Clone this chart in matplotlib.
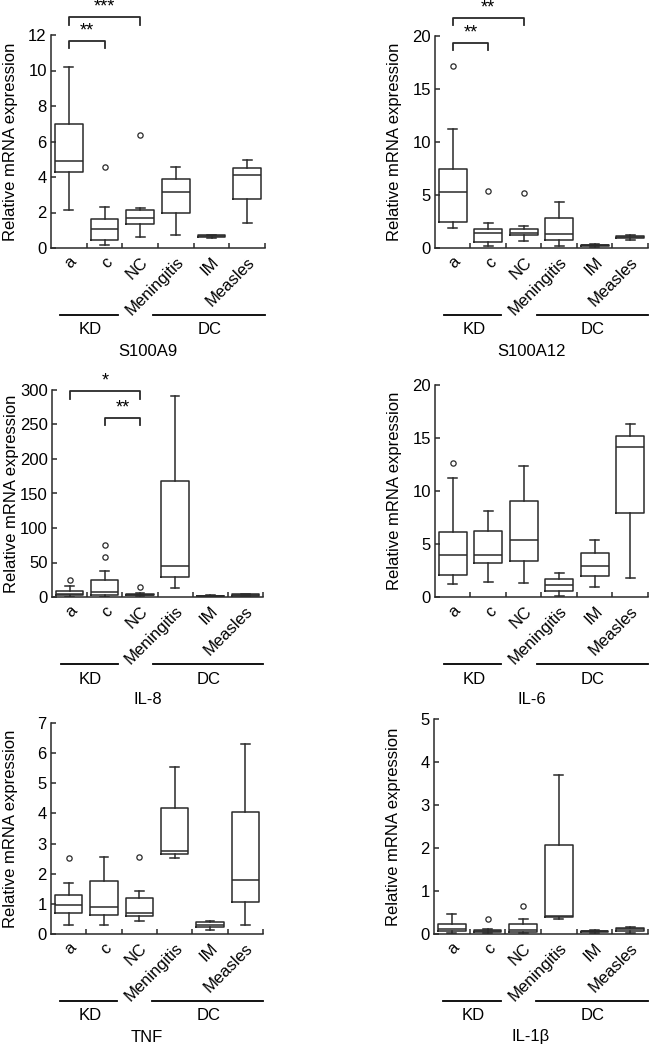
import matplotlib
matplotlib.use('Agg')
import matplotlib.pyplot as plt
from matplotlib.transforms import ScaledTranslation

plt.rcParams['font.family'] = ['Liberation Sans', 'DejaVu Sans']

groups = ['a', 'c', 'NC', 'Meningitis', 'IM', 'Measles']

# per group: whislo, q1, median, q3, whishi
s100a9 = [
    [2.14, 4.27, 4.91, 6.97, 10.2],
    [0.15, 0.47, 1.07, 1.63, 2.29],
    [0.60, 1.35, 1.69, 2.12, 2.27],
    [0.75, 1.97, 3.13, 3.88, 4.59],
    [0.56, 0.60, 0.66, 0.72, 0.76],
    [1.41, 2.76, 4.12, 4.50, 4.93],
]
s100a9_out = [[], [4.59], [6.38], [], [], []]

s100a12 = [
    [1.85, 2.41, 5.24, 7.43, 11.22],
    [0.16, 0.60, 1.41, 1.76, 2.32],
    [0.63, 1.19, 1.38, 1.79, 2.07],
    [0.16, 0.78, 1.29, 2.82, 4.33],
    [0.12, 0.18, 0.25, 0.30, 0.35],
    [0.80, 0.90, 1.00, 1.10, 1.20],
]
s100a12_out = [[17.2], [5.42], [5.23], [], [], []]

il8 = [
    [0.5, 2.4, 4.8, 8.7, 16.0],
    [0.5, 2.4, 7.3, 25.2, 37.7],
    [1.0, 2.4, 3.4, 4.8, 6.3],
    [13.0, 29.0, 45.0, 168.0, 290.8],
    [0.5, 1.0, 1.5, 2.0, 3.0],
    [1.0, 2.0, 3.0, 4.0, 5.0],
]
il8_out = [[24.7], [57.6, 76.0], [14.0], [], [], []]

il6 = [
    [1.22, 2.04, 3.99, 6.12, 11.2],
    [1.38, 3.17, 3.92, 6.22, 8.16],
    [1.32, 3.42, 5.34, 9.01, 12.37],
    [0.05, 0.53, 1.10, 1.70, 2.26],
    [0.94, 1.95, 2.89, 4.11, 5.34],
    [1.76, 7.97, 14.13, 15.23, 16.33],
]
il6_out = [[12.68], [], [], [], [], []]

tnf = [
    [0.31, 0.69, 0.97, 1.28, 1.69],
    [0.31, 0.64, 0.89, 1.77, 2.56],
    [0.42, 0.59, 0.69, 1.19, 1.41],
    [2.51, 2.66, 2.77, 4.17, 5.55],
    [0.14, 0.23, 0.31, 0.39, 0.42],
    [0.31, 1.05, 1.80, 4.04, 6.30],
]
tnf_out = [[2.53], [], [2.55], [], [], []]

il1b = [
    [0.02, 0.06, 0.12, 0.23, 0.47],
    [0.02, 0.04, 0.06, 0.09, 0.12],
    [0.02, 0.05, 0.09, 0.23, 0.36],
    [0.35, 0.39, 0.43, 2.07, 3.70],
    [0.02, 0.04, 0.06, 0.08, 0.10],
    [0.03, 0.08, 0.11, 0.14, 0.17],
]
il1b_out = [[], [0.36], [0.64], [], [], []]

# significance brackets: group i, group j, bracket top, leg bottom, label
s100a9_sig = [(0, 1, 11.66, 11.25, '**'), (0, 2, 13.0, 12.56, '***')]
s100a12_sig = [(0, 1, 19.37, 18.65, '**'), (0, 2, 21.7, 21.0, '**')]
il8_sig = [(0, 2, 298.5, 287.0, '*'), (1, 2, 260.0, 249.0, '**')]

W, H = 650, 1046
LINE = '#2a2a2a'
FS = 12


def panel(fig, rect_px, name, stats, outliers, ymax, ystep, sig):
    left, top, right, bottom = rect_px
    ax = fig.add_axes([left / W, 1 - bottom / H, (right - left) / W, (bottom - top) / H])

    bxp_stats = []
    for g, s, out in zip(groups, stats, outliers):
        bxp_stats.append(dict(label=g, whislo=s[0], q1=s[1], med=s[2], q3=s[3],
                              whishi=s[4], fliers=out))
    pos = [i + 0.5 for i in range(len(groups))]
    ax.bxp(bxp_stats, positions=pos, widths=0.78, capwidths=0.25,
           boxprops=dict(color=LINE, lw=1.1),
           whiskerprops=dict(color=LINE, lw=1.1),
           capprops=dict(color=LINE, lw=1.1),
           medianprops=dict(color=LINE, lw=1.1),
           flierprops=dict(marker='o', mfc='none', mec=LINE, ms=3.8, mew=0.9))

    ax.set_xlim(0, 6)
    ax.set_ylim(0, ymax)
    ax.spines['top'].set_visible(False)
    ax.spines['right'].set_visible(False)
    for sp in ('left', 'bottom'):
        ax.spines[sp].set_color(LINE)
        ax.spines[sp].set_linewidth(1.1)

    ax.set_yticks([ystep * k for k in range(int(round(ymax / ystep)) + 1)])
    ax.tick_params(axis='y', direction='in', length=3.5, width=1.1, color=LINE,
                   labelsize=FS, pad=3)
    ax.set_xticks(range(1, 7))
    ax.set_xticklabels([])
    ax.tick_params(axis='x', which='major', direction='in', length=3.5, width=1.1, color=LINE)
    ax.set_xticks(pos, minor=True)
    ax.set_xticklabels(groups, minor=True, rotation=45, ha='right',
                       rotation_mode='anchor', fontsize=FS)
    ax.tick_params(axis='x', which='minor', length=0, pad=4.5)

    ax.set_ylabel('Relative mRNA expression', fontsize=FS)
    ax.yaxis.set_label_coords(-33 / (right - left), 0.5)

    for i, j, ytop, yleg, lab in sig:
        xi, xj = pos[i], pos[j]
        ax.plot([xi, xi, xj, xj], [yleg, ytop, ytop, yleg], color=LINE, lw=1.3,
                clip_on=False)
        ax.annotate(lab, ((xi + xj) / 2, ytop), xytext=(0, 1), textcoords='offset points',
                    ha='center', va='bottom', fontsize=13, annotation_clip=False)

    def below(px):
        return ax.get_xaxis_transform() + ScaledTranslation(0, -px / 100, fig.dpi_scale_trans)

    ax.plot([0.25, 1.87], [0, 0], color='black', lw=1.3, transform=below(67), clip_on=False)
    ax.plot([2.87, 6.0], [0, 0], color='black', lw=1.3, transform=below(67), clip_on=False)
    ax.text(1.1, 0, 'KD', transform=below(82), ha='center', va='center', fontsize=FS)
    ax.text(4.45, 0, 'DC', transform=below(82), ha='center', va='center', fontsize=FS)
    ax.text(2.72, 0, name, transform=below(103), ha='center', va='center', fontsize=FS)
    return ax


def main():
    fig = plt.figure(figsize=(W / 100, H / 100), dpi=100)
    panel(fig, (51, 35, 265, 248), 'S100A9', s100a9, s100a9_out, 12, 2, s100a9_sig)
    panel(fig, (435, 36, 648, 248), 'S100A12', s100a12, s100a12_out, 20, 5, s100a12_sig)
    panel(fig, (52, 390, 263, 597), 'IL-8', il8, il8_out, 300, 50, il8_sig)
    panel(fig, (435, 385, 648, 597), 'IL-6', il6, il6_out, 20, 5, [])
    panel(fig, (51, 723, 263, 934), 'TNF', tnf, tnf_out, 7, 1, [])
    panel(fig, (434, 719, 648, 934), 'IL-1β', il1b, il1b_out, 5, 1, [])
    fig.savefig('out.png', dpi=100)
    plt.close(fig)


if __name__ == '__main__':
    main()
